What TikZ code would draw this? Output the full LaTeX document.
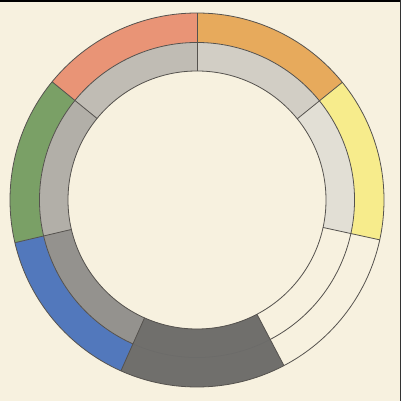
\documentclass[tikz,border=0pt]{standalone}
\begin{document}
\begin{tikzpicture}[x=1pt,y=1pt,
  edge/.style={draw=linegray,line width=0.8pt}]
\definecolor{bg}{RGB}{247,241,223}
\definecolor{linegray}{RGB}{85,82,78}
\definecolor{cred}{RGB}{233,148,118}
\definecolor{corange}{RGB}{231,170,92}
\definecolor{cyellow}{RGB}{247,236,140}
\definecolor{cgreen}{RGB}{122,160,102}
\definecolor{cblue}{RGB}{82,120,188}
\definecolor{gred}{RGB}{192,188,180}
\definecolor{gorange}{RGB}{210,206,197}
\definecolor{gyellow}{RGB}{226,223,213}
\definecolor{ggreen}{RGB}{178,175,168}
\definecolor{gblue}{RGB}{148,146,142}
\definecolor{cblack}{RGB}{112,111,108}
\useasboundingbox (0,0) rectangle (401,401);
\fill[bg] (0,0) rectangle (401,401);
\fill[black] (0,399) rectangle (401,401);
\fill[black!80] (400,0) rectangle (401,401);
\def\Ri{129}\def\Rm{157.5}\def\Ro{187}
\newcommand{\sector}[5]{% color, a1, a2, r1, r2
  \fill[#1] (#2:#4) arc[start angle=#2,end angle=#3,radius=#4] -- (#3:#5) arc[start angle=#3,end angle=#2,radius=#5] -- cycle;}
\begin{scope}[shift={(197,201)}]
  % outer ring
  \sector{cred}{90}{140.8}{\Rm}{\Ro}
  \sector{corange}{39}{90}{\Rm}{\Ro}
  \sector{cyellow}{-12.3}{39}{\Rm}{\Ro}
  \sector{cgreen}{140.8}{193.2}{\Rm}{\Ro}
  \sector{cblue}{193.2}{246}{\Rm}{\Ro}
  % inner ring
  \sector{gred}{90}{140.8}{\Ri}{\Rm}
  \sector{gorange}{39}{90}{\Ri}{\Rm}
  \sector{gyellow}{-12.3}{39}{\Ri}{\Rm}
  \sector{ggreen}{140.8}{193.2}{\Ri}{\Rm}
  \sector{gblue}{193.2}{246}{\Ri}{\Rm}
  % black segment
  \sector{cblack}{246}{297.7}{\Ri}{\Ro}
  % circles
  \draw[edge] (0,0) circle[radius=\Ri];
  \draw[edge] (0,0) circle[radius=\Ro];
  \draw[edge] (-62.3:\Rm) arc[start angle=-62.3,end angle=246,radius=\Rm];
  \draw[draw=black!60,line width=0.5pt,opacity=0.5] (246:\Rm) arc[start angle=246,end angle=297.7,radius=\Rm];
  % dividers
  \foreach \a in {90,39,-12.3,-62.3,246,193.2,140.8}
    \draw[edge] (\a:\Ri) -- (\a:\Ro);
\end{scope}
\end{tikzpicture}
\end{document}
